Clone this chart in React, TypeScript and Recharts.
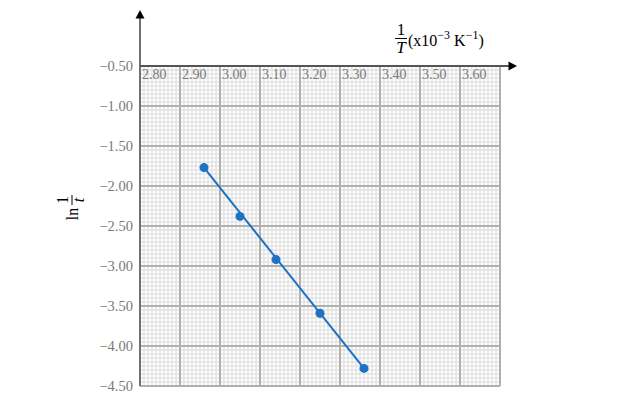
import React from 'react';
import {
  ComposedChart,
  Scatter,
  XAxis,
  YAxis,
  CartesianGrid,
  ReferenceLine,
  ReferenceDot,
} from 'recharts';

// measured points: 1/T (x10^-3 K^-1) vs ln(1/t)
const invTemp = [2.96, 3.05, 3.14, 3.25, 3.36];
const lnRate = [-1.77, -2.38, -2.92, -3.59, -4.28];

// best-fit line as drawn (two end points)
const fitInvTemp = [2.96, 3.36];
const fitLnRate = [-1.77, -4.28];

const xTicks = [2.8, 2.9, 3.0, 3.1, 3.2, 3.3, 3.4, 3.5, 3.6, 3.7];
const xLabels = ['2.80', '2.90', '3.00', '3.10', '3.20', '3.30', '3.40', '3.50', '3.60', ''];
const yTicks = [-0.5, -1.0, -1.5, -2.0, -2.5, -3.0, -3.5, -4.0, -4.5];

// where the drawn axes (with arrows) stop, in data units
const yAxisTop = 0.2;
const xAxisEnd = 3.7425;

const BLUE = '#1f72c3';
const SERIF = '"Liberation Serif", "Times New Roman", serif';
const TICK_GREY = '#7a7a7a';

const points = invTemp.map((x, i) => ({ x, y: lnRate[i] }));
const fit = fitInvTemp.map((x, i) => ({ x, y: fitLnRate[i] }));

const fmtY = (v: number) => (v < 0 ? '\u2212' : '') + Math.abs(v).toFixed(2);

function XTick(props: any) {
  const { x, y, payload } = props;
  const i = xTicks.indexOf(payload.value);
  const label = i >= 0 ? xLabels[i] : '';
  if (!label) return null;
  return (
    <text x={x + 2} y={y} dy={12.5} fill={TICK_GREY} fontSize={14} fontFamily={SERIF} textAnchor="start">
      {label}
    </text>
  );
}

const upArrow = (p: any) => (
  <path d={`M${p.cx},${p.cy} L${p.cx - 4.5},${p.cy + 8.5} L${p.cx + 4.5},${p.cy + 8.5} Z`} fill="#000" />
);
const rightArrow = (p: any) => (
  <path d={`M${p.cx},${p.cy} L${p.cx - 8.5},${p.cy - 4.5} L${p.cx - 8.5},${p.cy + 4.5} Z`} fill="#000" />
);

const minorCols = ({ offset }: any) => {
  const out: number[] = [];
  for (let i = 0; i <= 90; i++) out.push(offset.left + (i * offset.width) / 90);
  return out;
};
const minorRows = ({ offset }: any) => {
  const out: number[] = [];
  for (let i = 0; i <= 80; i++) out.push(offset.top + (i * offset.height) / 80);
  return out;
};

export default function App() {
  return (
    <div style={{ position: 'absolute', left: 0, top: 0, width: 640, height: 400, background: '#fff' }}>
      <ComposedChart width={640} height={400} margin={{ top: 66, right: 140, bottom: 14, left: 80 }}>
        <CartesianGrid
          stroke="#d9d9d9"
          strokeWidth={1}
          verticalCoordinatesGenerator={minorCols}
          horizontalCoordinatesGenerator={minorRows}
        />
        <CartesianGrid stroke="#b0b0b0" strokeWidth={2} />
        <XAxis
          type="number"
          dataKey="x"
          orientation="top"
          mirror
          domain={[2.8, 3.7]}
          ticks={xTicks}
          allowDataOverflow
          axisLine={false}
          tickLine={false}
          tickSize={0}
          tickMargin={0}
          tick={<XTick />}
          interval={0}
        />
        <YAxis
          type="number"
          dataKey="y"
          width={60}
          domain={[-4.5, -0.5]}
          ticks={yTicks}
          allowDataOverflow
          axisLine={false}
          tickLine={false}
          tickSize={0}
          tickMargin={7}
          interval={0}
          tickFormatter={fmtY}
          tick={{ fill: TICK_GREY, fontSize: 14.5, fontFamily: SERIF }}
        />
        <ReferenceLine
          segment={[{ x: 2.8, y: -4.5 }, { x: 2.8, y: yAxisTop - 0.1 }]}
          stroke="#707070"
          strokeWidth={2}
          ifOverflow="visible"
        />
        <ReferenceLine
          segment={[{ x: 2.8, y: -0.5 }, { x: xAxisEnd - 0.02, y: -0.5 }]}
          stroke="#555"
          strokeWidth={2}
          ifOverflow="visible"
        />
        <ReferenceDot x={2.8} y={yAxisTop} ifOverflow="visible" shape={upArrow} />
        <ReferenceDot x={xAxisEnd} y={-0.5} ifOverflow="visible" shape={rightArrow} />
        <Scatter
          data={fit}
          line={{ stroke: BLUE, strokeWidth: 2 }}
          shape={() => <g />}
          isAnimationActive={false}
        />
        <Scatter data={points} fill={BLUE} shape="circle" isAnimationActive={false} />
      </ComposedChart>
      <svg
        width={640}
        height={400}
        style={{ position: 'absolute', left: 0, top: 0, pointerEvents: 'none' }}
        fontFamily={SERIF}
      >
        {/* x title: 1/T (x10^-3 K^-1) */}
        <text x={401} y={35} fontSize={17} textAnchor="middle" fill="#000">1</text>
        <line x1={395} x2={407} y1={38.5} y2={38.5} stroke="#000" strokeWidth={1} />
        <text x={401} y={53} fontSize={17} fontStyle="italic" textAnchor="middle" fill="#000">T</text>
        <text x={408} y={46} fontSize={16} fill="#000">
          (x10<tspan dy={-7} fontSize={12}>{'\u2212'}3</tspan>
          <tspan dy={7}> K</tspan>
          <tspan dy={-7} fontSize={12}>{'\u2212'}1</tspan>
          <tspan dy={7}>)</tspan>
        </text>
        {/* y title: ln 1/t */}
        <g transform="translate(72,214) rotate(-90)">
          <text x={0} y={6} fontSize={16} textAnchor="middle" fill="#000">ln</text>
          <text x={14} y={-4} fontSize={16} textAnchor="middle" fill="#000">1</text>
          <line x1={9} x2={19} y1={0} y2={0} stroke="#000" strokeWidth={1} />
          <text x={14} y={12} fontSize={16} fontStyle="italic" textAnchor="middle" fill="#000">t</text>
        </g>
      </svg>
    </div>
  );
}
